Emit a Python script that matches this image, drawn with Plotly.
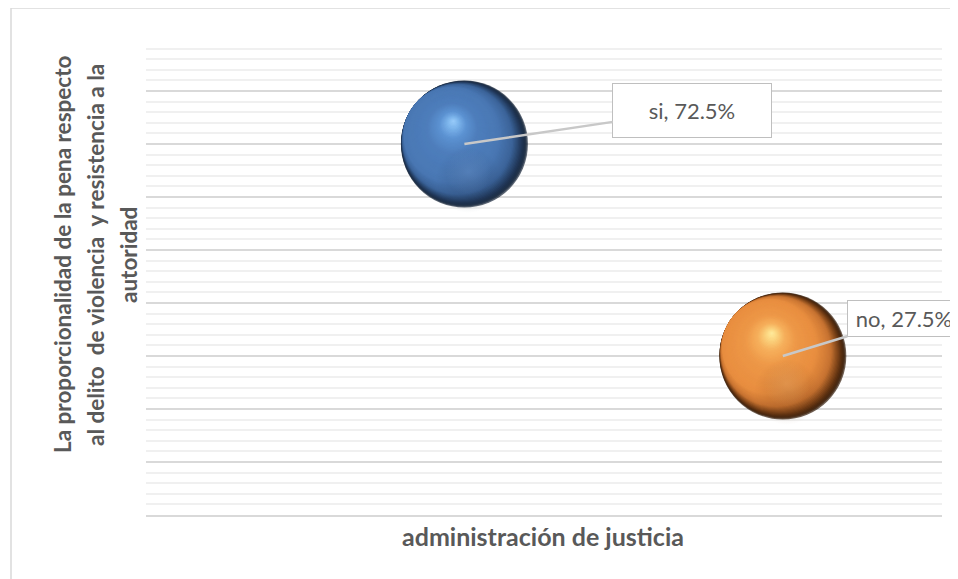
import plotly.graph_objects as go

# ---- data ----
categories = ["si", "no"]
x_vals = [1, 2]
y_vals = [0.725, 0.275]
pct_labels = ["72.5%", "27.5%"]
x_title = "administración de justicia"
y_title_lines = ["La proporcionalidad de la pena respecto",
                 "al delito  de violencia  y resistencia a la",
                 "autoridad"]

# ---- style ----
OFF = 8                      # page body margin
W, H = 958 - OFF, 579 - OFF
ML, MT = 146 - OFF, 38 - OFF
MR = W - (942 - OFF)
MB = H - (515 - OFF)
X_RANGE = [0, 2.5]
Y_RANGE = [-0.0626, 0.9501]
PW = W - ML - MR
PH = H - MT - MB
XS = PW / (X_RANGE[1] - X_RANGE[0])
YS = PH / (Y_RANGE[1] - Y_RANGE[0])
FONT = "Lato"
TXT = "#595959"

R = 63.5                     # sphere radius px
CRES = 16                    # crescent offset px
CRES_DIR = (-0.82, -0.57)    # direction of the lit side
HL = (-11, -23)              # highlight offset px
N1, N2 = 24, 44

palettes = {
    "si": dict(
        p1=[(0.0, (22, 36, 56)), (0.2, (34, 58, 92)), (0.5, (60, 100, 154)), (1.0, (74, 120, 180))],
        p2=[(0.0, (74, 120, 180)), (0.45, (78, 126, 188)), (0.7, (92, 146, 210)),
            (0.88, (128, 184, 238)), (1.0, (158, 208, 252))]),
    "no": dict(
        p1=[(0.0, (48, 24, 6)), (0.2, (110, 58, 20)), (0.5, (200, 116, 50)), (1.0, (232, 142, 64))],
        p2=[(0.0, (232, 142, 64)), (0.45, (238, 152, 72)), (0.7, (246, 176, 92)),
            (0.88, (252, 216, 130)), (1.0, (255, 238, 162))]),
}
bounce = {"si": "rgba(100,145,205,0.5)", "no": "rgba(240,170,100,0.45)"}
bounce0 = {"si": "rgba(100,145,205,0)", "no": "rgba(240,170,100,0)"}
shade = {"si": "rgba(30,50,80,0.25)", "no": "rgba(110,55,15,0.25)"}
shade0 = {"si": "rgba(30,50,80,0)", "no": "rgba(110,55,15,0)"}


def interp(pal, t):
    for (t0, c0), (t1, c1) in zip(pal[:-1], pal[1:]):
        if t <= t1:
            f = (t - t0) / (t1 - t0) if t1 > t0 else 0
            return "rgb(%d,%d,%d)" % tuple(round(a + (b - a) * f) for a, b in zip(c0, c1))
    return "rgb(%d,%d,%d)" % pal[-1][1]


fig = go.Figure()

for cat, xv, yv in zip(categories, x_vals, y_vals):
    xs, ys, ss, cs = [], [], [], []
    # phase 1: internally tangent discs -> dark crescent on the shadow side
    for i in range(N1):
        t = i / N1
        s = CRES * t
        xs.append(xv + s * CRES_DIR[0] / XS)
        ys.append(yv - s * CRES_DIR[1] / YS)
        ss.append(2 * (R - s))
        cs.append(interp(palettes[cat]["p1"], t))
    c1 = (CRES * CRES_DIR[0], CRES * CRES_DIR[1])
    # phase 2: shrinking discs toward the highlight
    for i in range(N2):
        t = i / N2
        px = c1[0] + (HL[0] - c1[0]) * t
        py = c1[1] + (HL[1] - c1[1]) * t
        xs.append(xv + px / XS)
        ys.append(yv - py / YS)
        ss.append(2 * (R - CRES) * (1 - t))
        cs.append(interp(palettes[cat]["p2"], t))
    fig.add_trace(go.Scatter(x=xs, y=ys, mode="markers",
                             marker=dict(size=ss, color=cs, line=dict(width=0)),
                             hoverinfo="skip", showlegend=False))
    # darker band in the lower half
    fig.add_trace(go.Scatter(x=[xv + 4 / XS], y=[yv - 36 / YS], mode="markers",
                             marker=dict(size=66, color=shade0[cat], line=dict(width=0),
                                         gradient=dict(type="radial", color=shade[cat])),
                             hoverinfo="skip", showlegend=False))
    # soft bounce light in the lower part of the sphere
    fig.add_trace(go.Scatter(x=[xv + 4 / XS], y=[yv - 28 / YS], mode="markers",
                             marker=dict(size=46, color=bounce0[cat], line=dict(width=0),
                                         gradient=dict(type="radial", color=bounce[cat])),
                             hoverinfo="skip", showlegend=False))
    # data point for hover
    fig.add_trace(go.Scatter(x=[xv], y=[yv], mode="markers", name=cat,
                             marker=dict(size=1, color="rgba(0,0,0,0)"),
                             hovertemplate=cat + ", %{y:.1%}<extra></extra>",
                             showlegend=False))

# callout labels
label_cfg = {
    "si": dict(ax=228, ay=-34, width=158, height=53),
    "no": dict(ax=121, ay=-37, width=112, height=35),
}
for cat, xv, yv, pl in zip(categories, x_vals, y_vals, pct_labels):
    c = label_cfg[cat]
    fig.add_annotation(x=xv, y=yv, xref="x", yref="y", text=f"{cat}, {pl}",
                       showarrow=True, arrowhead=0, arrowwidth=2.5, arrowcolor="#c8c8c8",
                       ax=c["ax"], ay=c["ay"], standoff=0,
                       width=c["width"], height=c["height"], borderpad=0,
                       bgcolor="white", bordercolor="#bfbfbf", borderwidth=1,
                       font=dict(family=FONT, size=22, color=TXT),
                       align="center", valign="middle")

# y-axis title (three lines), centred at y=250 in page px
for k, line in enumerate(y_title_lines):
    fig.add_annotation(x=0, y=(515 - 255) / PH, xref="paper", yref="paper",
                       xshift=(62 + 33 * k) - 146, text=line, showarrow=False,
                       textangle=-90, xanchor="center", yanchor="middle",
                       font=dict(family=FONT, size=22.5, color=TXT, weight="bold"))

# x-axis title
fig.add_annotation(x=0.5, y=0, xref="paper", yref="paper", yshift=-(536 - 515),
                   text=x_title, showarrow=False, xanchor="center", yanchor="middle",
                   xshift=543 - (146 + PW / 2),
                   font=dict(family=FONT, size=25, color=TXT, weight="bold"))

# chart-area border
fig.add_shape(type="rect", xref="paper", yref="paper",
              x0=(11 - 146) / PW, x1=(W + 20 - ML) / PW,
              y0=-(H + 20 - (H - MB)) / PH, y1=(515 - 8) / PH,
              line=dict(color="#d9d9d9", width=1.5), fillcolor="rgba(0,0,0,0)", layer="below")

fig.update_layout(
    width=W, height=H, autosize=False,
    margin=dict(l=ML, r=MR, t=MT, b=MB),
    paper_bgcolor="white", plot_bgcolor="white",
    showlegend=False,
    xaxis=dict(range=X_RANGE, showgrid=False, zeroline=False, showticklabels=False,
               ticks="", showline=True, linecolor="#d9d9d9", linewidth=1.5, fixedrange=True),
    yaxis=dict(range=Y_RANGE, tick0=0.275, dtick=0.1125, showgrid=True,
               gridcolor="#d9d9d9", gridwidth=1.5, zeroline=False, showticklabels=False,
               ticks="", showline=False, fixedrange=True,
               minor=dict(tick0=0.275, dtick=0.0225, showgrid=True,
                          gridcolor="#f0f0f0", gridwidth=1.5)),
)

fig.write_html("out.html")
